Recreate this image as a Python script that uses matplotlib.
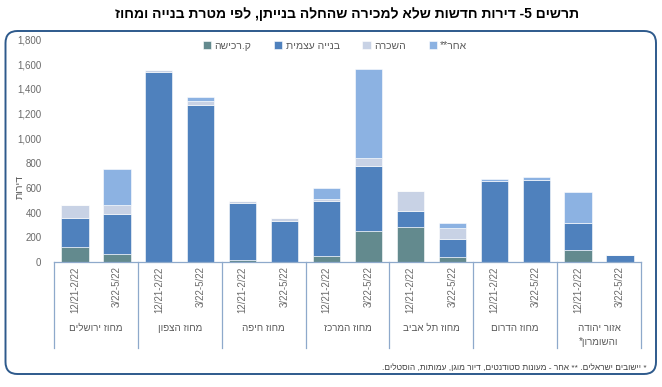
import numpy as np
import matplotlib
matplotlib.use('Agg')
import matplotlib.pyplot as plt
from matplotlib.patches import FancyBboxPatch
import matplotlib.transforms as mtransforms

plt.rcParams['font.family'] = ['Liberation Sans', 'DejaVu Sans']

# Data
districts = ['מחוז ירושלים', 'מחוז הצפון', 'מחוז חיפה', 'מחוז המרכז',
             'מחוז תל אביב', 'מחוז הדרום', 'אזור יהודה\nוהשומרון*']
periods = ['12/21-2/22', '3/22-5/22']
series_names = ['ק.רכישה', 'בנייה עצמית', 'השכרה', 'אחר**']
kvutzat_rechisha = [118, 65, 0, 0, 19, 0, 49, 251, 286, 43, 0, 0, 100, 0]
bniya_atzmit = [240, 320, 1534, 1265, 458, 332, 444, 522, 129, 145, 652, 660, 218, 53]
haskara = [103, 73, 19, 40, 19, 26, 19, 65, 162, 87, 0, 0, 0, 0]
acher = [0, 294, 0, 27, 0, 0, 87, 720, 0, 43, 22, 24, 248, 0]
colors = ['#638A8E', '#4F81BD', '#C8D2E5', '#8CB2E2']

title = 'תרשים 5- דירות חדשות שלא למכירה שהחלה בנייתן, לפי מטרת בנייה ומחוז'
ylabel = 'דירות'
footnote = '* יישובים ישראלים. ** אחר - מעונות סטודנטים, דיור מוגן, עמותות, הוסטלים.'


def heb(s):
    # matplotlib has no bidi support: reverse each line for visual order
    return '\n'.join(line[::-1] for line in s.split('\n'))


fig = plt.figure(figsize=(6.62, 3.87), dpi=100)
ax = fig.add_axes([54 / 662, 1 - 262 / 387, (641 - 54) / 662, (262 - 39.3) / 387])

x = np.arange(len(bniya_atzmit))
bottom = np.zeros(len(x))
for name, vals, c in zip(series_names, [kvutzat_rechisha, bniya_atzmit, haskara, acher], colors):
    vals = np.array(vals, dtype=float)
    ax.bar(x, vals, width=0.65, bottom=bottom, color=c, edgecolor='white',
           linewidth=0.4, label=heb(name))
    bottom += vals

ax.set_xlim(-0.5, len(x) - 0.5)
ax.set_ylim(0, 1800)
ax.set_yticks(range(0, 1801, 200))
ax.set_yticklabels([f'{v:,}' for v in range(0, 1801, 200)])
ax.tick_params(axis='y', length=0, labelsize=7, labelcolor='#6A6A6A', pad=9)
ax.set_xticks(x)
ax.set_xticklabels(periods * len(districts), rotation=90, va='top')
ax.tick_params(axis='x', length=0, labelsize=7, labelcolor='#6A6A6A', pad=3)
for side in ['top', 'right', 'left']:
    ax.spines[side].set_visible(False)
ax.spines['bottom'].set_color('#8EA9CB')
ax.spines['bottom'].set_linewidth(0.9)

fig.text(20 / 662, 1 - 187 / 387, heb(ylabel), rotation=90, ha='center', va='center',
         fontsize=7.5, color='#595959')

# group separators and district labels
trans = mtransforms.blended_transform_factory(ax.transData, ax.transAxes)
for b in np.arange(-0.5, len(x), 2):
    ax.plot([b, b], [0, -0.385], transform=trans, color='#8EA9CB', lw=0.9, clip_on=False)
for i, d in enumerate(districts):
    ax.text(2 * i + 0.5, -0.275, heb(d), transform=trans, ha='center', va='top',
            fontsize=7, color='#595959', linespacing=1.5)

ax.legend(ncol=4, loc='center', bbox_to_anchor=(335 / 662, 1 - 46 / 387),
          bbox_transform=fig.transFigure, frameon=False, fontsize=7.5,
          handlelength=0.8, handleheight=0.8, handletextpad=0.3, columnspacing=2.2,
          labelcolor='#595959')

fig.text(347 / 662, 1 - 14 / 387, heb(title), ha='center', va='center', fontsize=10,
         fontweight='bold', color='black')
fig.text(647 / 662, 1 - 368 / 387, heb(footnote), ha='right', va='center',
         fontsize=6, color='#404040')

# rounded frame around the chart area
overlay = fig.add_axes([0, 0, 1, 1], zorder=-1)
overlay.set_xlim(0, 662)
overlay.set_ylim(387, 0)
overlay.axis('off')
overlay.add_patch(FancyBboxPatch((5.5, 31), 650.5, 343, boxstyle='round,pad=0,rounding_size=12',
                                 facecolor='white', edgecolor='#2E5A8C', linewidth=1.4))

fig.savefig('out.png', dpi=100)
